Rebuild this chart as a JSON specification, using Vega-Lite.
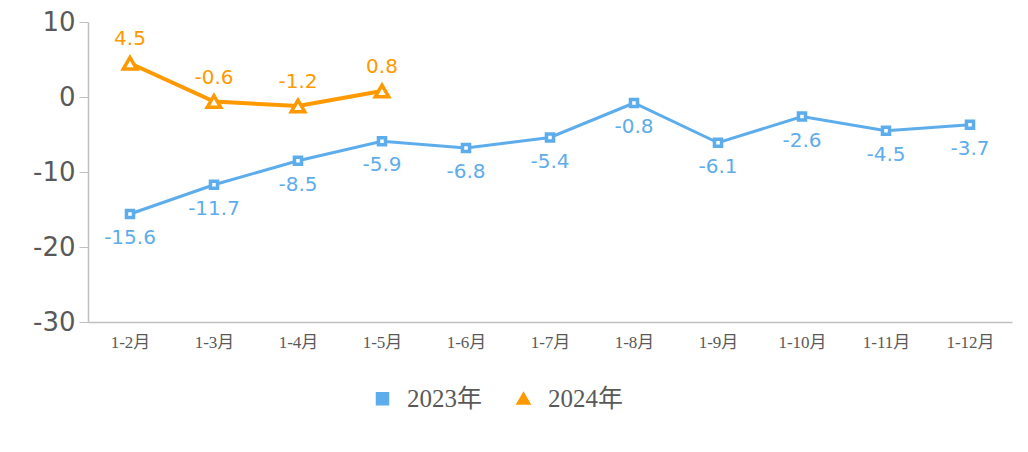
{
  "$schema": "https://vega.github.io/schema/vega-lite/v6.json",
  "width": 924,
  "height": 300,
  "autosize": {"type": "none"},
  "padding": {"left": 88, "top": 22, "right": 16, "bottom": 130},
  "background": "white",
  "config": {
    "view": {"stroke": null},
    "locale": {"number": {"decimal": ".", "thousands": ",", "grouping": [3], "currency": ["", ""], "minus": "-"}}
  },
  "data": {
    "values": [
      {"m": "1-2月", "s": "2023年", "v": -15.6},
      {"m": "1-3月", "s": "2023年", "v": -11.7},
      {"m": "1-4月", "s": "2023年", "v": -8.5},
      {"m": "1-5月", "s": "2023年", "v": -5.9},
      {"m": "1-6月", "s": "2023年", "v": -6.8},
      {"m": "1-7月", "s": "2023年", "v": -5.4},
      {"m": "1-8月", "s": "2023年", "v": -0.8},
      {"m": "1-9月", "s": "2023年", "v": -6.1},
      {"m": "1-10月", "s": "2023年", "v": -2.6},
      {"m": "1-11月", "s": "2023年", "v": -4.5},
      {"m": "1-12月", "s": "2023年", "v": -3.7},
      {"m": "1-2月", "s": "2024年", "v": 4.5},
      {"m": "1-3月", "s": "2024年", "v": -0.6},
      {"m": "1-4月", "s": "2024年", "v": -1.2},
      {"m": "1-5月", "s": "2024年", "v": 0.8}
    ]
  },
  "encoding": {
    "x": {
      "field": "m", "type": "nominal", "sort": null,
      "scale": {"paddingInner": 0, "paddingOuter": 0},
      "axis": {
        "title": null, "labelAngle": 0, "ticks": false,
        "domainColor": "#BFBFBF", "domainWidth": 1.5,
        "labelFont": "Liberation Serif, Noto Sans CJK SC", "labelFontSize": 17,
        "labelColor": "#595959", "labelPadding": 12
      }
    },
    "y": {
      "field": "v", "type": "quantitative",
      "scale": {"domain": [-30, 10], "nice": false},
      "axis": {
        "title": null, "values": [-30, -20, -10, 0, 10], "grid": false,
        "domainColor": "#BFBFBF", "domainWidth": 1.5,
        "tickColor": "#BFBFBF", "tickSize": 9,
        "labelFont": "DejaVu Sans", "labelFontSize": 26,
        "labelColor": "#595959", "labelPadding": 4
      }
    },
    "color": {
      "field": "s", "type": "nominal",
      "scale": {"domain": ["2023年", "2024年"], "range": ["#5DADEC", "#FF9900"]},
      "legend": {
        "title": null, "orient": "none", "direction": "horizontal",
        "legendX": 282, "legendY": 364,
        "labelFont": "Liberation Serif, Noto Sans CJK SC",
        "labelFontSize": 25, "labelColor": "#595959", "symbolSize": 110,
        "symbolStrokeWidth": 3, "columnPadding": 28, "labelOffset": 12
      }
    },
    "shape": {
      "field": "s", "type": "nominal",
      "scale": {"domain": ["2023年", "2024年"], "range": ["square", "triangle-up"]},
      "legend": {
        "title": null, "orient": "none", "direction": "horizontal",
        "legendX": 282, "legendY": 364,
        "labelFont": "Liberation Serif, Noto Sans CJK SC",
        "labelFontSize": 25, "labelColor": "#595959", "symbolSize": 110,
        "symbolStrokeWidth": 3, "columnPadding": 28, "labelOffset": 12
      }
    }
  },
  "layer": [
    {
      "transform": [{"filter": "datum.s === '2023年'"}],
      "mark": {"type": "line", "strokeWidth": 3}
    },
    {
      "transform": [{"filter": "datum.s === '2024年'"}],
      "mark": {"type": "line", "strokeWidth": 4}
    },
    {
      "transform": [{"filter": "datum.s === '2023年'"}],
      "mark": {"type": "point", "filled": false, "fill": "white", "fillOpacity": 1, "size": 50, "strokeWidth": 3.5, "opacity": 1}
    },
    {
      "transform": [{"filter": "datum.s === '2024年'"}],
      "mark": {"type": "point", "filled": false, "fill": "white", "fillOpacity": 1, "size": 180, "strokeWidth": 3.5, "opacity": 1}
    },
    {
      "transform": [{"filter": "datum.s === '2023年'"}],
      "mark": {"type": "text", "dy": 24, "font": "DejaVu Sans", "fontSize": 20},
      "encoding": {"text": {"field": "v", "type": "quantitative", "format": ".1f"}, "shape": {"value": null}}
    },
    {
      "transform": [{"filter": "datum.s === '2024年'"}],
      "mark": {"type": "text", "dy": -24, "font": "DejaVu Sans", "fontSize": 20},
      "encoding": {"text": {"field": "v", "type": "quantitative", "format": ".1f"}, "shape": {"value": null}}
    }
  ]
}
